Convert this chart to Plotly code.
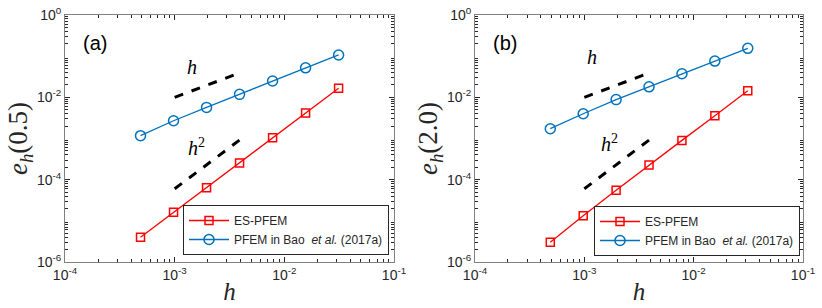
import plotly.graph_objects as go

# ---- data ----
h = [1/2048, 1/1024, 1/512, 1/256, 1/128, 1/64, 1/32]
es_a = [4.0e-6, 1.61e-5, 6.4e-5, 2.54e-4, 1.05e-3, 4.17e-3, 1.66e-2]
bao_a = [1.17e-3, 2.7e-3, 5.7e-3, 1.18e-2, 2.5e-2, 5.2e-2, 0.107]
es_b = [3.0e-6, 1.33e-5, 5.5e-5, 2.28e-4, 9.0e-4, 3.58e-3, 1.45e-2]
bao_b = [1.73e-3, 4.0e-3, 8.8e-3, 1.8e-2, 3.75e-2, 7.6e-2, 0.155]
ref_h = [1e-3, 4e-3]
ref1 = [1.0e-2, 4.0e-2]
ref2 = [6.0e-5, 9.6e-4]
xtick_vals = [1e-4, 1e-3, 1e-2, 1e-1]
xtick_text = ["10<sup>-4</sup>", "10<sup>-3</sup>", "10<sup>-2</sup>", "10<sup>-1</sup>"]
ytick_vals = [1e-6, 1e-4, 1e-2, 1e0]
ytick_text = ["10<sup>-6</sup>", "10<sup>-4</sup>", "10<sup>-2</sup>", "10<sup>0</sup>"]
panel_labels = ["(a)", "(b)"]
ylabels = ["<i>e</i><sub><i>h</i></sub>(0.5)", "<i>e</i><sub><i>h</i></sub>(2.0)"]
series_names = ["ES-PFEM", "PFEM in Bao  <i>et al.</i> (2017a)"]

RED = "#FF0000"
BLUE = "#0072BD"
AXC = "#262626"
SERIF = "Liberation Serif, Times New Roman, serif"
SANS = "Liberation Sans, Arial, Helvetica, sans-serif"

minor_x = [k * 10.0**e for e in range(-4, -1) for k in range(2, 10)]
minor_y = [k * 10.0**e for e in range(-6, 0) for k in range(2, 10)]

fig = go.Figure()
panels = [(es_a, bao_a, "x", "y", "legend"), (es_b, bao_b, "x2", "y2", "legend2")]
for es, bao, xa, ya, lg in panels:
    fig.add_trace(go.Scatter(x=h, y=es, xaxis=xa, yaxis=ya, name=series_names[0], legend=lg,
                             mode="lines+markers", line=dict(color=RED, width=1.3),
                             marker=dict(symbol="square-open", size=8, color=RED, line=dict(width=1.5))))
    fig.add_trace(go.Scatter(x=h, y=bao, xaxis=xa, yaxis=ya, name=series_names[1], legend=lg,
                             mode="lines+markers", line=dict(color=BLUE, width=1.3),
                             marker=dict(symbol="circle-open", size=10, color=BLUE, line=dict(width=1.5))))
    fig.add_trace(go.Scatter(x=ref_h, y=ref1, xaxis=xa, yaxis=ya, mode="lines", showlegend=False,
                             line=dict(color="black", width=3, dash="dash")))
    fig.add_trace(go.Scatter(x=ref_h, y=ref2, xaxis=xa, yaxis=ya, mode="lines", showlegend=False,
                             line=dict(color="black", width=3, dash="dash")))

def xaxis(domain, anchor):
    return dict(type="log", domain=domain, anchor=anchor, range=[-4, -1], automargin=False,
                tickvals=xtick_vals, ticktext=xtick_text, ticks="inside", ticklen=5,
                tickcolor=AXC, showline=True, linecolor="#808080", linewidth=1,
                mirror="allticks", showgrid=False, zeroline=False,
                tickfont=dict(family=SANS, size=14, color=AXC),
                minor=dict(tickvals=minor_x, ticks="inside", ticklen=3, tickcolor=AXC, showgrid=False),
                title=dict(text="<i>h</i>", font=dict(family=SERIF, size=25, color=AXC), standoff=0))

def yaxis(domain, anchor, label):
    return dict(type="log", domain=domain, anchor=anchor, range=[-6, 0], automargin=False,
                tickvals=ytick_vals, ticktext=ytick_text, ticks="inside", ticklen=5,
                tickcolor=AXC, showline=True, linecolor="#808080", linewidth=1,
                mirror="allticks", showgrid=False, zeroline=False,
                tickfont=dict(family=SANS, size=14, color=AXC),
                minor=dict(tickvals=minor_y, ticks="inside", ticklen=3, tickcolor=AXC, showgrid=False),
                title=dict(text=label, font=dict(family=SERIF, size=27, color=AXC), standoff=0))

ydom = [1 - 262 / 308, 1 - 15 / 308]
fig.update_layout(
    width=822, height=308, margin=dict(l=0, r=0, t=0, b=0, autoexpand=False),
    paper_bgcolor="white", plot_bgcolor="white", showlegend=True,
    xaxis=xaxis([65 / 822, 394 / 822], "y"),
    yaxis=yaxis(ydom, "x", ylabels[0]),
    xaxis2=xaxis([475 / 822, 803 / 822], "y2"),
    yaxis2=yaxis(ydom, "x2", ylabels[1]),
    legend=dict(x=389 / 822, y=(308 - 255) / 308, xanchor="right", yanchor="bottom",
                bordercolor=AXC, borderwidth=1, bgcolor="white",
                font=dict(family=SANS, size=12, color=AXC), itemwidth=40,
                tracegroupgap=0, yref="paper", xref="paper"),
    legend2=dict(x=800 / 822, y=(308 - 256) / 308, xanchor="right", yanchor="bottom",
                 bordercolor=AXC, borderwidth=1, bgcolor="white",
                 font=dict(family=SANS, size=12, color=AXC), itemwidth=40,
                 tracegroupgap=0, yref="paper", xref="paper"),
)

ann = []
for i, (xa, ya) in enumerate([("x", "y"), ("x2", "y2")]):
    ann.append(dict(text=panel_labels[i], xref=f"{xa} domain", yref=f"{ya} domain",
                    x=0.09, y=0.885, showarrow=False, xanchor="center", yanchor="middle",
                    font=dict(family=SANS, size=20, color="black")))
# "h" and "h^2" labels (log coordinates)
hpos = [(-2.845, -1.256, -2.80, -3.20), (-2.927, -1.012, -2.77, -3.12)]
for i, (xa, ya) in enumerate([("x", "y"), ("x2", "y2")]):
    a, b, c, d = hpos[i]
    ann.append(dict(text="<i>h</i>", xref=xa, yref=ya, x=a, y=b, showarrow=False,
                    font=dict(family=SERIF, size=20, color="black")))
    ann.append(dict(text="<i>h</i><sup>2</sup>", xref=xa, yref=ya, x=c, y=d, showarrow=False,
                    font=dict(family=SERIF, size=20, color="black")))
fig.update_layout(annotations=ann)

fig.write_html("out.html", config={"displayModeBar": False},
               post_script="document.body.style.margin='0';")
